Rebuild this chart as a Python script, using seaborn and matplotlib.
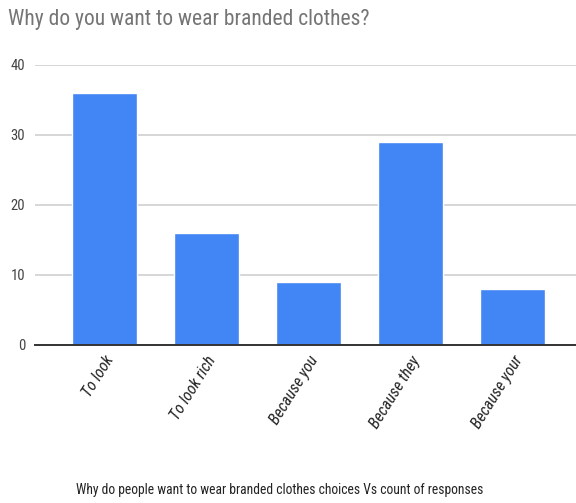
import matplotlib
matplotlib.use("Agg")
import matplotlib.pyplot as plt
import seaborn as sns
import pandas as pd

categories = ["To look", "To look rich", "Because you", "Because they", "Because your"]
responses = [36, 16, 9, 29, 8]
y_ticks = [0, 10, 20, 30, 40]

title = "Why do you want to wear branded clothes?"
x_label = "Why do people want to wear branded clothes choices Vs count of responses"

sns.set_theme(style="white")
narrow = ["Roboto Condensed", "Liberation Sans", "DejaVu Sans"]
plt.rcParams["font.family"] = narrow

df = pd.DataFrame({"choice": categories, "count": responses})

fig = plt.figure(figsize=(5.76, 5.03), dpi=100)
ax = fig.add_axes([35 / 576, 1 - 345 / 503, 1 - 35 / 576, (345 - 65) / 503])

sns.barplot(data=df, x="choice", y="count", color="#4285F4", width=0.64,
            saturation=1, ax=ax, zorder=3)

ax.set_ylim(0, 40)
ax.set_xlim(-0.68, 4.62)
ax.set_yticks(y_ticks)
ax.set_yticklabels([str(v) for v in y_ticks], fontsize=10.5, color="#444444")
ax.yaxis.grid(True, color="#d0d0d0", linewidth=1.2, zorder=0)
ax.tick_params(axis="y", length=0, pad=7)
ax.tick_params(axis="x", length=0, pad=6)

for s in ["top", "right", "left"]:
    ax.spines[s].set_visible(False)
ax.spines["bottom"].set_color("#333333")
ax.spines["bottom"].set_linewidth(1.4)
ax.spines["bottom"].set_zorder(4)

ax.set_xticks(range(len(categories)))
ax.set_xticklabels(categories, rotation=58, ha="right", rotation_mode="anchor",
                   fontsize=11.5, style="italic", color="#222222")

ax.set_xlabel("")
ax.set_ylabel("")

fig.text(8 / 576, 1 - 19 / 503, title, fontsize=15.5, color="#757575",
         ha="left", va="center", family=narrow)
fig.text(280 / 576, 1 - 490 / 503, x_label, fontsize=9.8, color="#222222",
         ha="center", va="center", family=narrow)

fig.savefig("out.png", dpi=100)
